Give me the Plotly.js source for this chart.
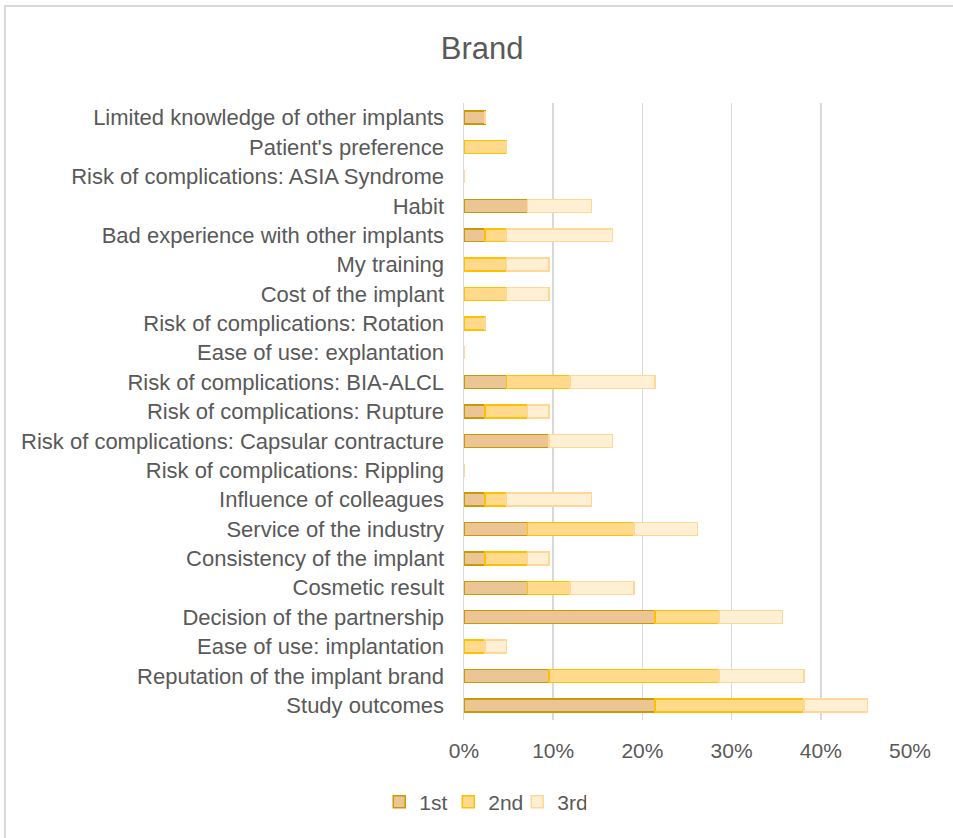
<!DOCTYPE html>
<html>
<head>
<meta charset="utf-8">
<script src="https://cdn.plot.ly/plotly-3.0.1.min.js"></script>
<style>
html,body{margin:0;padding:0;background:#fff;}
#frame{position:absolute;left:4px;top:5px;width:949px;height:833px;border-left:2px solid #d9d9d9;border-top:2px solid #d9d9d9;box-sizing:border-box;}
#chart{position:absolute;left:0;top:0;width:953px;height:838px;}
</style>
</head>
<body>
<div id="chart"></div>
<div id="frame"></div>
<script>
// Categories, top to bottom as displayed
const categories = [
  "Limited knowledge of other implants",
  "Patient's preference",
  "Risk of complications: ASIA Syndrome",
  "Habit",
  "Bad experience with other implants",
  "My training",
  "Cost of the implant",
  "Risk of complications: Rotation",
  "Ease of use: explantation",
  "Risk of complications: BIA-ALCL",
  "Risk of complications: Rupture",
  "Risk of complications: Capsular contracture",
  "Risk of complications: Rippling",
  "Influence of colleagues",
  "Service of the industry",
  "Consistency of the implant",
  "Cosmetic result",
  "Decision of the partnership",
  "Ease of use: implantation",
  "Reputation of the implant brand",
  "Study outcomes"
];
// Shares (fraction of respondents)
const first  = [0.0238, 0, 0, 0.0714, 0.0238, 0, 0, 0, 0, 0.0476, 0.0238, 0.0952, 0, 0.0238, 0.0714, 0.0238, 0.0714, 0.2143, 0, 0.0952, 0.2143];
const second = [0, 0.0476, 0, 0, 0.0238, 0.0476, 0.0476, 0.0238, 0, 0.0714, 0.0476, 0, 0, 0.0238, 0.1190, 0.0476, 0.0476, 0.0714, 0.0238, 0.1905, 0.1667];
const third  = [0, 0, 0, 0.0714, 0.1190, 0.0476, 0.0476, 0, 0, 0.0952, 0.0238, 0.0714, 0, 0.0952, 0.0714, 0.0238, 0.0714, 0.0714, 0.0238, 0.0952, 0.0714];
const seriesNames = ["1st", "2nd", "3rd"];
const xTicks = [0, 0.1, 0.2, 0.3, 0.4, 0.5];

const fills = ["#EBC594", "#FFD98C", "#FFEFD3"];
const lines = ["#C99A06", "#FFC000", "#FFD898"];
const data = [first, second, third].map((vals, i) => ({
  type: "bar",
  orientation: "h",
  name: seriesNames[i],
  y: categories,
  x: vals,
  marker: {color: fills[i], line: {color: lines[i], width: 1.5}},
  hoverinfo: "x+y"
}));

const font = "'Liberation Sans', Arial, sans-serif";
const layout = {
  width: 953, height: 838,
  paper_bgcolor: "#ffffff", plot_bgcolor: "#ffffff",
  barmode: "stack",
  bargap: 0.56,
  font: {family: font, color: "#595959", size: 21},
  title: {text: "Brand", x: 0.506, xanchor: "center", y: 0.943, yanchor: "middle",
          font: {family: font, size: 31, color: "#595959"}},
  margin: {l: 464, r: 43, t: 103, b: 118},
  xaxis: {
    range: [0, 0.5], tickvals: xTicks, tickformat: ".0%",
    showgrid: true, gridcolor: "#d9d9d9", gridwidth: 1.5,
    zeroline: false, showline: false, ticks: "", ticklabelstandoff: 16,
    tickfont: {size: 21, color: "#595959"}, fixedrange: true
  },
  yaxis: {
    categoryorder: "array", categoryarray: categories.slice().reverse(),
    autorange: true,
    showline: true, linecolor: "#d9d9d9", linewidth: 1.5,
    showgrid: false, ticks: "", ticklabelstandoff: 14,
    tickfont: {size: 22, color: "#595959"}, fixedrange: true
  },
  legend: {orientation: "h", x: -0.19, xanchor: "left", y: -0.1, yanchor: "top",
           font: {size: 21, color: "#595959"}, traceorder: "normal", itemwidth: 30,
           entrywidth: 24},
  showlegend: true
};
Plotly.newPlot("chart", data, layout, {displayModeBar: false, staticPlot: true});
</script>
</body>
</html>
